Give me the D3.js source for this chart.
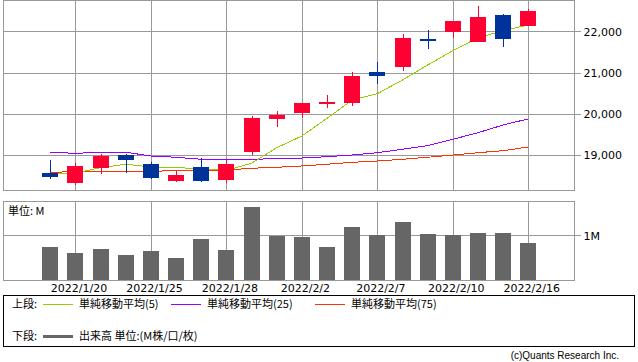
<!DOCTYPE html>
<html>
<head>
<meta charset="utf-8">
<script src="https://cdn.jsdelivr.net/npm/d3@7"></script>
<style>
  body { margin: 0; background: #fff; }
  svg { display: block; }
  text { font-family: "DejaVu Sans", sans-serif; font-size: 11px; fill: #000; }
  .jp { font-family: "Noto Sans CJK JP", sans-serif; }
</style>
</head>
<body>
<svg id="chart" width="638" height="362"></svg>
<script>
// daily candles
var dates = ["2022/1/19", "2022/1/20", "2022/1/21", "2022/1/24", "2022/1/25", "2022/1/26", "2022/1/27",
  "2022/1/28", "2022/1/31", "2022/2/1", "2022/2/2", "2022/2/3", "2022/2/4", "2022/2/7", "2022/2/8",
  "2022/2/9", "2022/2/10", "2022/2/14", "2022/2/15", "2022/2/16"];
var open = [18563, 18329, 18692, 19000, 18782, 18377, 18709, 18401, 19080, 19881,
  20019, 20244, 20261, 21020, 21142, 21813, 21983, 21748, 22395, 22136];
var high = [18878, 18806, 19025, 19030, 18831, 18620, 18928, 18872, 19939, 20067,
  20270, 20455, 21013, 21256, 21935, 22032, 22255, 22614, 22420, 22541];
var low = [18425, 18266, 18547, 18571, 18425, 18353, 18353, 18329, 18993, 19687,
  19905, 20147, 20196, 20729, 21045, 21578, 21845, 21740, 21627, 22130];
var close = [18473, 18734, 18983, 18886, 18450, 18515, 18377, 18782, 19898, 19970,
  20261, 20285, 20916, 20923, 21838, 21772, 22250, 22347, 21821, 22492];

// moving averages
var ma5 = [18540, 18564, 18692, 18775, 18709, 18702, 18653, 18629, 18799, 19177,
  19461, 19890, 20334, 20487, 20819, 21183, 21530, 21845, 22015, 22153];
var ma25 = [19066, 19041, 19066, 19066, 18976, 18945, 18896, 18879, 18896, 18911,
  18927, 18959, 19000, 19056, 19139, 19226, 19381, 19541, 19728, 19876];
var ma75 = [18581, 18595, 18605, 18605, 18605, 18620, 18629, 18636, 18678, 18702,
  18734, 18775, 18823, 18855, 18896, 18945, 19000, 19056, 19105, 19194];

// volume in M
var volume = [0.74, 0.607, 0.696, 0.562, 0.651, 0.496, 0.918, 0.673, 1.629, 0.984,
  0.962, 0.74, 1.184, 1.007, 1.296, 1.029, 1.007, 1.051, 1.051, 0.829];

var tickDates = ["2022/1/20", "2022/1/25", "2022/1/28", "2022/2/2", "2022/2/7", "2022/2/10", "2022/2/16"];
var priceTicks = [19000, 20000, 21000, 22000];
var volTicks = [1];

var gridColor = "#999999";
var upColor = "#ff0033", downColor = "#003399";
var maColors = {ma5: "#99cc00", ma25: "#9900ff", ma75: "#ff3300"};

var plot = {left: 3.5, right: 574.5, top: 0.5, bottom: 190.5};
var vol = {top: 201, bottom: 280.5};

var svg = d3.select("#chart");

var x = d3.scalePoint()
    .domain(dates)
    .range([50.3, 528.3]);

var y = d3.scaleLinear()
    .domain([18139, 22747])
    .range([plot.bottom, plot.top]);

var yv = d3.scaleLinear()
    .domain([0, 1.759])
    .range([vol.bottom, vol.top]);

function px(v) { return Math.round(v) + 0.5; }

// ---- price panel grid
var pg = svg.append("g").attr("shape-rendering", "crispEdges");

pg.selectAll(".vgrid").data(tickDates).enter().append("line")
    .attr("x1", d => px(x(d))).attr("x2", d => px(x(d)))
    .attr("y1", plot.top).attr("y2", plot.bottom)
    .attr("stroke", gridColor);

var yAxis = d3.axisRight(y)
    .tickValues(priceTicks)
    .tickSize(-(plot.right - plot.left) )
    .tickSizeOuter(0)
    .tickFormat(d3.format(","));

var ya = pg.append("g")
    .attr("transform", "translate(" + plot.right + ",0)")
    .call(yAxis);
ya.select(".domain").remove();
ya.selectAll(".tick line").attr("stroke", gridColor).attr("x1", 6);
ya.selectAll(".tick text").attr("x", 9).attr("dy", "0.36em")
    .style("font-family", "DejaVu Sans").style("font-size", "11px").attr("fill", "#000");

pg.append("rect")
    .attr("x", plot.left).attr("y", plot.top)
    .attr("width", plot.right - plot.left).attr("height", plot.bottom - plot.top)
    .attr("fill", "none").attr("stroke", gridColor);

// ---- moving averages
function maLine(values, color) {
  var line = d3.line()
      .x((d, i) => x(dates[i]))
      .y(d => y(d));
  svg.append("path")
      .attr("d", line(values))
      .attr("fill", "none")
      .attr("stroke", color)
      .attr("stroke-width", 1)
      .attr("shape-rendering", "crispEdges");
}
maLine(ma75, maColors.ma75);
maLine(ma25, maColors.ma25);
maLine(ma5, maColors.ma5);

// ---- candles
var candles = svg.append("g").attr("shape-rendering", "crispEdges");
var bodyW = 16;

var c = candles.selectAll(".candle").data(dates).enter().append("g");

c.append("line")
    .attr("x1", d => px(x(d))).attr("x2", d => px(x(d)))
    .attr("y1", (d, i) => y(high[i])).attr("y2", (d, i) => y(low[i]))
    .attr("stroke", (d, i) => close[i] >= open[i] ? upColor : downColor)
    .attr("stroke-width", 1);

c.append("rect")
    .attr("x", d => Math.round(x(d) - bodyW / 2))
    .attr("y", (d, i) => y(Math.max(open[i], close[i])))
    .attr("width", bodyW)
    .attr("height", (d, i) => Math.max(2, Math.abs(y(open[i]) - y(close[i]))))
    .attr("fill", (d, i) => close[i] >= open[i] ? upColor : downColor);

// ---- volume panel
var vg = svg.append("g").attr("shape-rendering", "crispEdges");

vg.selectAll(".vgrid").data(tickDates).enter().append("line")
    .attr("x1", d => px(x(d))).attr("x2", d => px(x(d)))
    .attr("y1", vol.top).attr("y2", vol.bottom)
    .attr("stroke", gridColor);

var vAxis = d3.axisRight(yv)
    .tickValues(volTicks)
    .tickSize(-(plot.right - plot.left))
    .tickSizeOuter(0)
    .tickFormat(d => d + "M");

var va = vg.append("g")
    .attr("transform", "translate(" + plot.right + ",0)")
    .call(vAxis);
va.select(".domain").remove();
va.selectAll(".tick line").attr("stroke", gridColor).attr("x1", 6);
va.selectAll(".tick text").attr("x", 9).attr("dy", "0.36em")
    .style("font-family", "DejaVu Sans").style("font-size", "11px").attr("fill", "#000");

vg.selectAll(".bar").data(volume).enter().append("rect")
    .attr("x", (d, i) => Math.round(x(dates[i]) - bodyW / 2))
    .attr("y", d => yv(d))
    .attr("width", bodyW)
    .attr("height", d => vol.bottom - yv(d))
    .attr("fill", "#666666");

vg.append("rect")
    .attr("x", plot.left).attr("y", vol.top + 0.5)
    .attr("width", plot.right - plot.left).attr("height", vol.bottom - vol.top - 0.5)
    .attr("fill", "none").attr("stroke", gridColor);

svg.append("text").attr("class", "jp")
    .attr("x", 8).attr("y", 215)
    .text("単位: M");

// date labels under the volume panel
var xAxis = d3.axisBottom(x)
    .tickValues(tickDates)
    .tickSize(0);
var xa = svg.append("g")
    .attr("transform", "translate(0," + vol.bottom + ")")
    .call(xAxis);
xa.select(".domain").remove();
xa.selectAll(".tick text").attr("y", 4).attr("dx", 3)
    .style("font-family", "DejaVu Sans").style("font-size", "11px").attr("fill", "#000");

// ---- legend
var lg = svg.append("g");
lg.append("rect")
    .attr("x", 3.5).attr("y", 295.5).attr("width", 631).attr("height", 50.5)
    .attr("fill", "none").attr("stroke", "#000").attr("shape-rendering", "crispEdges");

var legendItems = [
  {label: "単純移動平均(5)", color: maColors.ma5, x: 43},
  {label: "単純移動平均(25)", color: maColors.ma25, x: 171},
  {label: "単純移動平均(75)", color: maColors.ma75, x: 315}
];

lg.append("text").attr("class", "jp").attr("x", 12).attr("y", 308).text("上段:");
legendItems.forEach(function(it) {
  lg.append("line")
      .attr("x1", it.x).attr("x2", it.x + 30)
      .attr("y1", 304.5).attr("y2", 304.5)
      .attr("stroke", it.color).attr("shape-rendering", "crispEdges");
  lg.append("text").attr("class", "jp")
      .attr("x", it.x + 36).attr("y", 308).text(it.label);
});

lg.append("text").attr("class", "jp").attr("x", 12).attr("y", 340).text("下段:");
lg.append("line")
    .attr("x1", 43).attr("x2", 73)
    .attr("y1", 336).attr("y2", 336)
    .attr("stroke", "#666666").attr("stroke-width", 3).attr("shape-rendering", "crispEdges");
lg.append("text").attr("class", "jp").attr("x", 79).attr("y", 340).text("出来高 単位:(M株/口/枚)");

svg.append("text")
    .attr("x", 619).attr("y", 359)
    .attr("text-anchor", "end")
    .style("font-family", "Liberation Sans").style("font-size", "10px").attr("fill", "#333")
    .text("(c)Quants Research Inc.");
</script>
</body>
</html>
